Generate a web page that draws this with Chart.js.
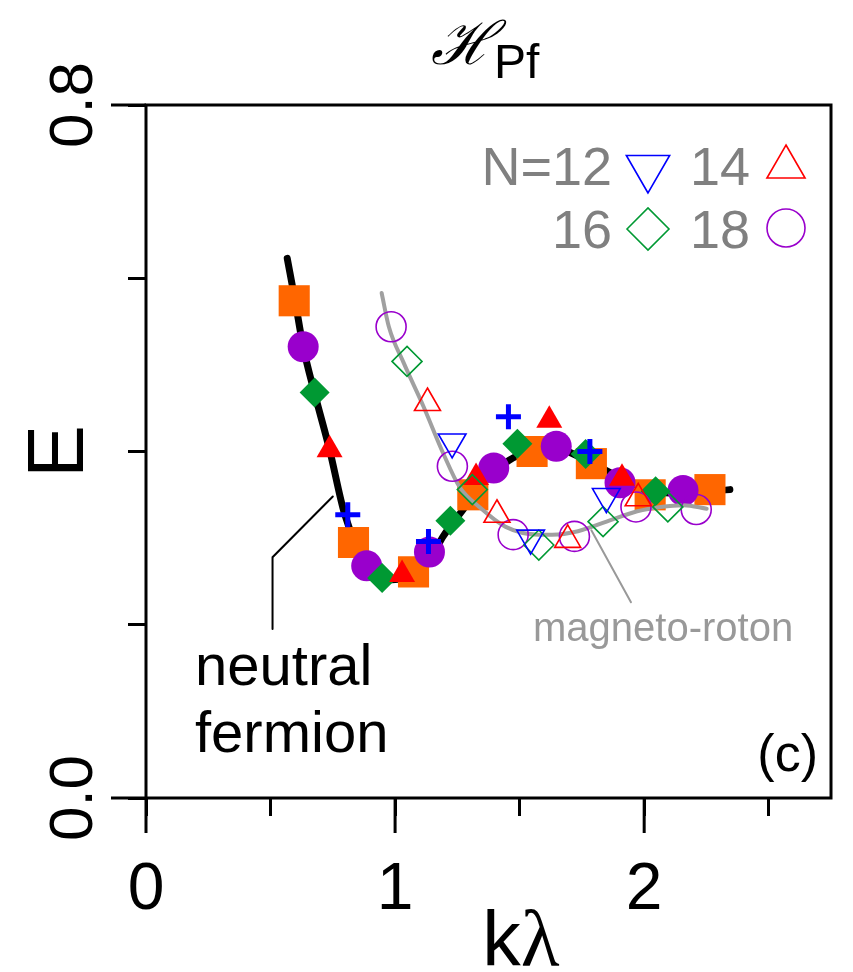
<!DOCTYPE html>
<html>
<head>
<meta charset="utf-8">
<script src="https://cdn.jsdelivr.net/npm/chart.js@4.4.1/dist/chart.umd.min.js"></script>
<style>
  html, body { margin: 0; padding: 0; background: #fff; }
</style>
</head>
<body>
<canvas id="grafico" width="853" height="972"></canvas>
<script>
// neutral fermion branch, filled symbols
const nf12K = [0.810, 1.134, 1.455, 1.782];
const nf12E = [0.327, 0.296, 0.440, 0.400];
const nf14K = [0.737, 1.028, 1.325, 1.619, 1.911];
const nf14E = [0.402, 0.258, 0.370, 0.436, 0.369];
const nf16K = [0.677, 0.948, 1.222, 1.491, 1.765, 2.046];
const nf16E = [0.468, 0.254, 0.320, 0.409, 0.397, 0.354];
const nf18K = [0.631, 0.886, 1.138, 1.396, 1.647, 1.903, 2.156];
const nf18E = [0.521, 0.268, 0.284, 0.381, 0.406, 0.364, 0.355];
const nf20K = [0.595, 0.833, 1.074, 1.312, 1.550, 1.788, 2.024, 2.264];
const nf20E = [0.574, 0.295, 0.261, 0.350, 0.400, 0.386, 0.350, 0.356];

// magneto-roton branch, open symbols
const mr12K = [1.229, 1.544, 1.848];
const mr12E = [0.411, 0.300, 0.348];
const mr14K = [1.130, 1.409, 1.693, 1.976];
const mr14E = [0.456, 0.327, 0.298, 0.346];
const mr16K = [1.048, 1.310, 1.577, 1.835, 2.095];
const mr16E = [0.504, 0.356, 0.292, 0.319, 0.336];
const mr18K = [0.984, 1.230, 1.474, 1.720, 1.967, 2.209];
const mr18E = [0.544, 0.383, 0.304, 0.302, 0.336, 0.333];

// guide curves
const fermK = [0.567, 0.598, 0.631, 0.677, 0.737, 0.796, 0.849, 0.909, 0.988, 1.067, 1.135, 1.193,
  1.273, 1.365, 1.458, 1.563, 1.643, 1.709, 1.802, 1.901, 2.000, 2.106, 2.218, 2.344];
const fermE = [0.623, 0.575, 0.521, 0.467, 0.402, 0.329, 0.289, 0.263, 0.252, 0.256, 0.273, 0.302,
  0.333, 0.367, 0.390, 0.402, 0.406, 0.398, 0.385, 0.370, 0.358, 0.352, 0.353, 0.356];
const rotonK = [0.946, 0.975, 1.035, 1.114, 1.193, 1.259, 1.338, 1.444, 1.577, 1.630, 1.734, 1.868,
  1.972, 2.066, 2.159, 2.251];
const rotonE = [0.583, 0.544, 0.502, 0.452, 0.398, 0.359, 0.336, 0.313, 0.304, 0.304, 0.308, 0.321,
  0.331, 0.336, 0.338, 0.334];

// label pointers
const fermPtrK = [0.750, 0.508, 0.508];
const fermPtrE = [0.348, 0.278, 0.195];
const rotonPtrK = [1.788, 1.947];
const rotonPtrE = [0.309, 0.226];

// axes
const xTicks = [0, 1, 2];
const xTickLabels = ['0', '1', '2'];
const yTicks = [0, 0.8];
const yTickLabels = ['0.0', '0.8'];
const legendLabels = ['N=12', '14', '16', '18'];

const pts = (xs, ys) => xs.map((x, i) => ({ x, y: ys[i] }));

const SANS = '"Liberation Sans", Arial, Helvetica, sans-serif';

function marcador(label, xs, ys, style, color, radius, filled, order, extra) {
  return Object.assign({
    label,
    data: pts(xs, ys),
    pointStyle: style,
    pointRadius: radius,
    pointBackgroundColor: filled ? color : 'rgba(0,0,0,0)',
    pointBorderColor: color,
    pointBorderWidth: filled ? 0 : 1.6,
    showLine: false,
    order
  }, extra || {});
}

function curva(label, xs, ys, color, width, order, smooth) {
  return {
    label,
    data: pts(xs, ys),
    showLine: true,
    borderColor: color,
    borderWidth: width,
    pointRadius: 0,
    borderCapStyle: 'round',
    cubicInterpolationMode: smooth ? 'monotone' : 'default',
    tension: 0,
    order
  };
}

const datasets = [
  marcador('mr12', mr12K, mr12E, 'triangle', '#0000ff', 16, false, 0, { pointRotation: 180 }),
  marcador('mr14', mr14K, mr14E, 'triangle', '#ff0000', 15, false, 1),
  marcador('mr16', mr16K, mr16E, 'rectRot', '#009933', 15, false, 2),
  marcador('mr18', mr18K, mr18E, 'circle', '#9900cc', 15, false, 3),
  curva('roton', rotonK, rotonE, '#a0a0a0', 4, 4, true),
  marcador('nf12', nf12K, nf12E, 'cross', '#0000ff', 12.5, false, 5, { pointBorderWidth: 5 }),
  marcador('nf14', nf14K, nf14E, 'triangle', '#ff0000', 15, true, 6),
  marcador('nf16', nf16K, nf16E, 'rectRot', '#009933', 15, true, 7),
  marcador('nf18', nf18K, nf18E, 'circle', '#9900cc', 15.5, true, 8),
  marcador('nf20', nf20K, nf20E, 'rect', '#ff6600', 22, true, 9),
  curva('fermion', fermK, fermE, '#000000', 7, 10, true),
  curva('fermPtr', fermPtrK, fermPtrE, '#000000', 2, 11, false),
  curva('rotonPtr', rotonPtrK, rotonPtrE, '#999999', 2, 12, false)
];

function texto(ctx, str, x, y, font, color, align, rot) {
  ctx.save();
  ctx.font = font;
  ctx.fillStyle = color;
  ctx.textAlign = align || 'left';
  ctx.textBaseline = 'alphabetic';
  ctx.translate(x, y);
  if (rot) ctx.rotate(rot);
  ctx.fillText(str, 0, 0);
  ctx.restore();
}

const decoracao = {
  id: 'decoracao',
  afterDraw(chart) {
    const { ctx, chartArea: a, scales: { x, y } } = chart;
    ctx.save();
    ctx.strokeStyle = '#000';
    ctx.lineWidth = 3;
    ctx.strokeRect(a.left, a.top, a.right - a.left, a.bottom - a.top);

    // long ticks where there are labels
    ctx.beginPath();
    xTicks.forEach(v => {
      const px = x.getPixelForValue(v);
      ctx.moveTo(px, a.bottom);
      ctx.lineTo(px, a.bottom + 35);
    });
    yTicks.forEach(v => {
      const py = y.getPixelForValue(v);
      ctx.moveTo(a.left, py);
      ctx.lineTo(a.left - 35, py);
    });
    ctx.stroke();
    ctx.restore();

    xTicks.forEach((v, i) => texto(ctx, xTickLabels[i], x.getPixelForValue(v), a.bottom + 111,
      '66px ' + SANS, '#000', 'center'));
    yTicks.forEach((v, i) => texto(ctx, yTickLabels[i], a.left - 54, y.getPixelForValue(v),
      '62px ' + SANS, '#000', 'center', -Math.PI / 2));

    // axis titles
    texto(ctx, 'E', a.left - 63, y.getPixelForValue(0.4), '79px ' + SANS, '#000', 'center', -Math.PI / 2);
    ctx.save();
    ctx.font = '77px ' + SANS;
    const wk = ctx.measureText('k').width;
    ctx.font = '80px "Liberation Serif", "DejaVu Serif", serif';
    const wl = ctx.measureText('λ').width;
    ctx.restore();
    const kx = 521 - (wk + wl) / 2;
    texto(ctx, 'k', kx, 966, '77px ' + SANS, '#000', 'left');
    texto(ctx, 'λ', kx + wk, 966, '80px "Liberation Serif", "DejaVu Serif", serif', '#000', 'left');

    // title
    texto(ctx, 'ℋ', 494, 64, 'italic 60px "DejaVu Serif", serif', '#000', 'right');
    texto(ctx, 'Pf', 494, 78, '48px ' + SANS, '#000', 'left');

    // annotations
    texto(ctx, 'neutral', 195, 685, '58px ' + SANS, '#000', 'left');
    texto(ctx, 'fermion', 195, 752, '58px ' + SANS, '#000', 'left');
    texto(ctx, 'magneto-roton', 533, 641, '40px ' + SANS, '#999999', 'left');
    texto(ctx, '(c)', 818, 771, '52px ' + SANS, '#000', 'right');

    // legend
    const gray = '#808080';
    const font = '54px ' + SANS;
    texto(ctx, legendLabels[0], 612, 185, font, gray, 'right');
    texto(ctx, legendLabels[1], 750, 185, font, gray, 'right');
    texto(ctx, legendLabels[2], 612, 248, font, gray, 'right');
    texto(ctx, legendLabels[3], 750, 248, font, gray, 'right');
    const simbolos = [
      { ds: 0, x: 648, y: 168, r: 25 },
      { ds: 1, x: 786, y: 167, r: 22 },
      { ds: 2, x: 648, y: 229, r: 21 },
      { ds: 3, x: 786, y: 228, r: 19 }
    ];
    simbolos.forEach(s => {
      const d = datasets[s.ds];
      ctx.save();
      ctx.fillStyle = 'rgba(0,0,0,0)';
      ctx.strokeStyle = d.pointBorderColor;
      ctx.lineWidth = 1.6;
      Chart.helpers.drawPoint(ctx, {
        pointStyle: d.pointStyle,
        rotation: d.pointRotation || 0,
        radius: s.r,
        borderWidth: 1.6
      }, s.x, s.y);
      ctx.restore();
    });
  }
};

let grafico;
function inicializarGrafico() {
  const ctx = document.getElementById('grafico').getContext('2d');
  grafico = new Chart(ctx, {
    type: 'scatter',
    data: { datasets },
    options: {
      responsive: false,
      animation: false,
      devicePixelRatio: 1,
      layout: { padding: { top: 105, right: 15, left: 0, bottom: 0 } },
      plugins: { legend: { display: false }, tooltip: { enabled: false }, title: { display: false } },
      scales: {
        x: {
          type: 'linear',
          min: 0,
          max: 2.75,
          afterFit: s => { s.height = 174; },
          border: { display: false },
          grid: { display: true, drawOnChartArea: false, drawTicks: true, tickLength: 18, tickWidth: 3, tickColor: '#000' },
          ticks: { stepSize: 0.5, display: false, includeBounds: false }
        },
        y: {
          type: 'linear',
          min: 0,
          max: 0.8,
          afterFit: s => { s.width = 146; },
          border: { display: false },
          grid: { display: true, drawOnChartArea: false, drawTicks: true, tickLength: 18, tickWidth: 3, tickColor: '#000' },
          ticks: { stepSize: 0.2, display: false, includeBounds: false }
        }
      }
    },
    plugins: [decoracao]
  });
}

window.onload = () => {
  inicializarGrafico();
};
</script>
</body>
</html>
